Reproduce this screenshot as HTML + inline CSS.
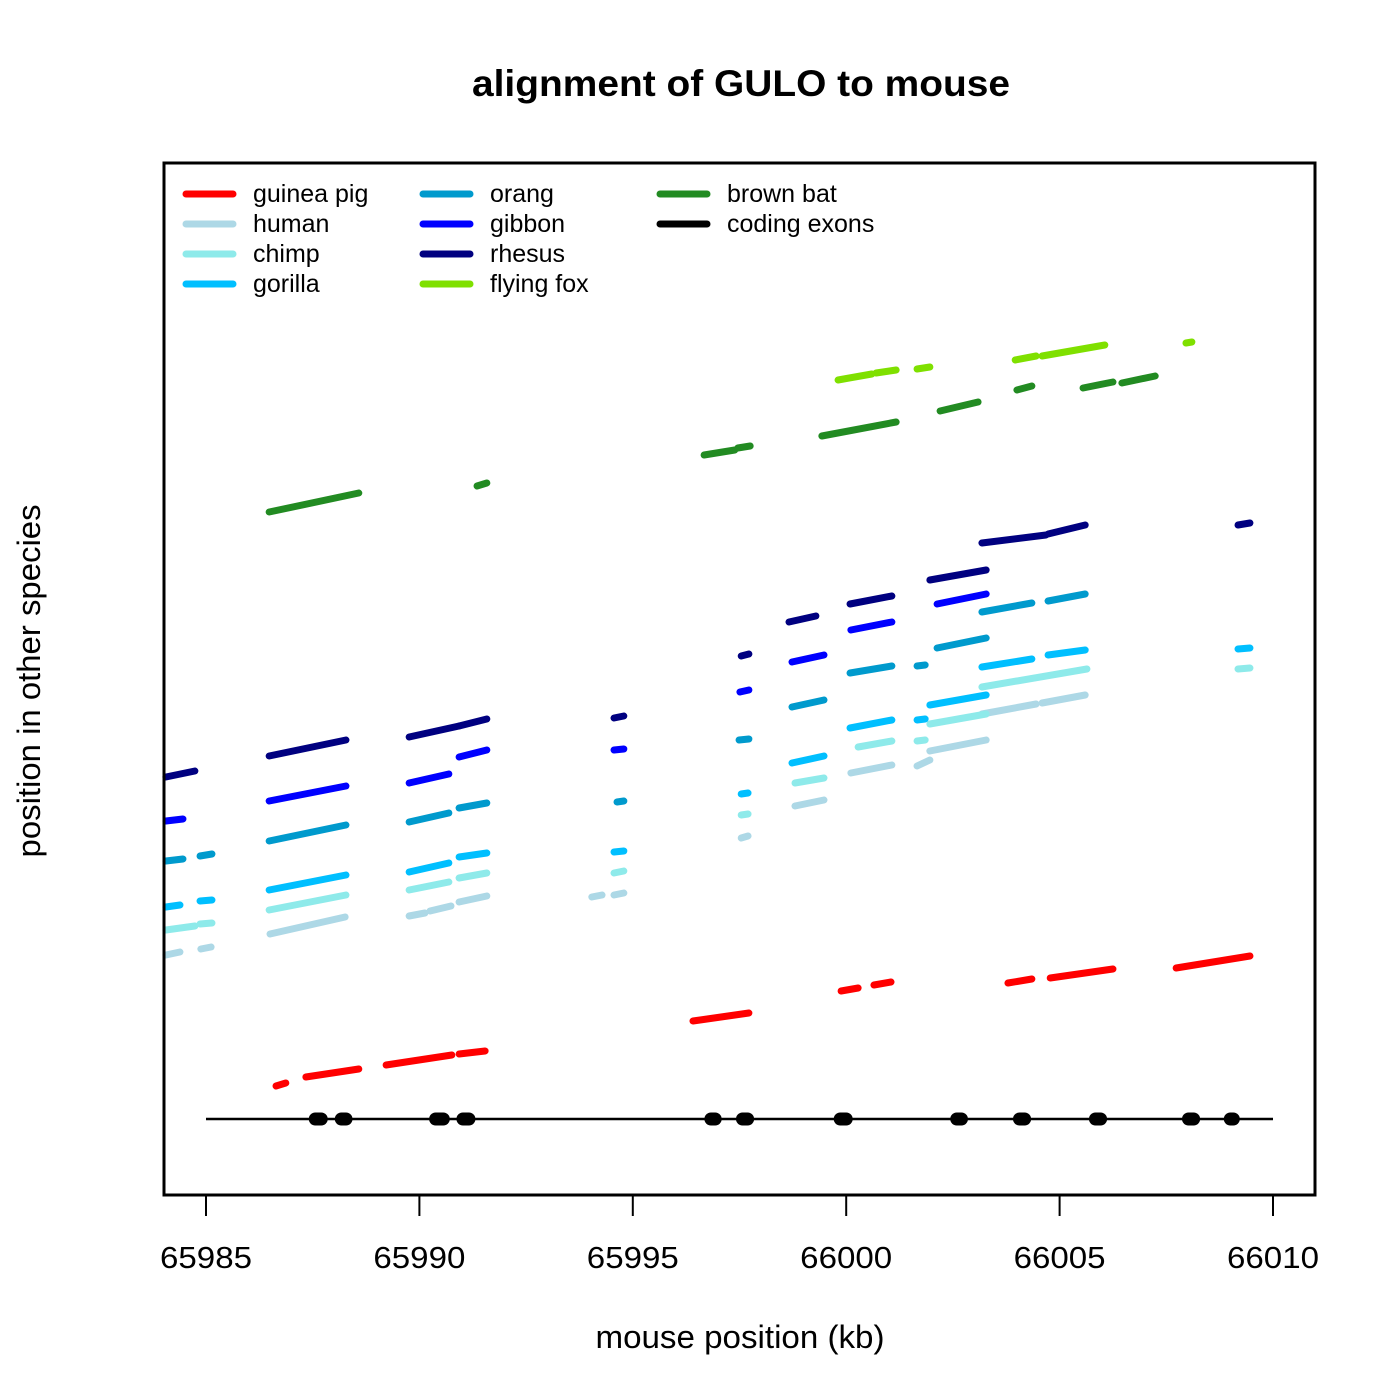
<!DOCTYPE html>
<html><head><meta charset="utf-8"><style>
html,body{margin:0;padding:0;background:#fff;}
svg{display:block;font-family:"Liberation Sans",Arial,sans-serif;}
</style></head><body>
<svg id="chart" width="1400" height="1400" viewBox="0 0 1400 1400">
<rect width="1400" height="1400" fill="#fff"/>
<text x="741" y="96" text-anchor="middle" font-size="37" font-weight="bold" textLength="538" lengthAdjust="spacingAndGlyphs">alignment of GULO to mouse</text>
<text x="740" y="1348" text-anchor="middle" font-size="32" textLength="289" lengthAdjust="spacingAndGlyphs">mouse position (kb)</text>
<text transform="translate(40,681) rotate(-90)" text-anchor="middle" font-size="32" textLength="353" lengthAdjust="spacingAndGlyphs">position in other species</text>
<g id="plot"></g>
<rect x="164" y="163" width="1151" height="1032" fill="none" stroke="#000" stroke-width="3"/>
<g id="axis"></g>
<g id="legend"></g>
</svg>
<script>
const xTicks = [65985, 65990, 65995, 66000, 66005, 66010];
const speciesNames = ["guinea pig","human","chimp","gorilla","orang","gibbon","rhesus","flying fox","brown bat","coding exons"];
const guineaPig = [[65986.64,65986.87,109,112],[65987.34,65988.58,118,126],[65989.22,65990.76,130,140],[65990.93,65991.54,141,144],[65996.41,65997.72,174,182],[65999.88,66000.28,204,207],[66000.65,66001.05,210,213],[66003.79,66004.35,212,216],[66004.78,66006.25,217,226],[66007.73,66009.46,227,239]];
const human = [[65984.06,65984.39,240,243],[65984.88,65985.12,246,248],[65986.50,65988.26,261,278],[65989.76,65990.13,279,282],[65990.25,65990.74,284,289],[65990.93,65991.58,293,299],[65994.04,65994.28,298,300],[65994.56,65994.79,300,302],[65997.54,65997.70,357,359],[65998.80,65999.48,389,395],[66000.11,66001.07,422,430],[66001.66,66001.96,429,435],[66001.96,66003.28,444,455],[66003.18,66004.45,481,491],[66004.59,66005.60,492,500]];
const chimp = [[65984.06,65984.74,265,269],[65984.86,65985.14,271,272],[65986.48,65988.28,285,300],[65989.76,65990.69,305,313],[65990.93,65991.58,317,322],[65994.56,65994.79,322,324],[65997.54,65997.70,380,381],[65998.80,65999.48,412,417],[66000.28,66001.07,448,454],[66001.66,66001.85,454,455],[66001.96,66003.28,471,481],[66003.18,66005.64,508,526],[66009.18,66009.46,526,527]];
const gorilla = [[65984.06,65984.39,288,290],[65984.86,65985.14,294,295],[65986.48,65988.28,305,320],[65989.76,65990.69,323,332],[65990.93,65991.58,338,342],[65994.56,65994.79,343,344],[65997.54,65997.70,401,402],[65998.73,65999.48,432,439],[66000.09,66001.07,467,475],[66001.66,66001.85,475,476],[66001.96,66003.28,490,500],[66003.18,66004.35,528,536],[66004.73,66005.60,540,545],[66009.18,66009.46,546,547]];
const orang = [[65984.06,65984.46,334,336],[65984.86,65985.14,339,341],[65986.48,65988.28,354,370],[65989.76,65990.69,373,382],[65990.93,65991.58,387,392],[65994.63,65994.79,393,394],[65997.49,65997.72,455,456],[65998.73,65999.48,488,495],[66000.09,66001.07,522,529],[66001.66,66001.85,529,530],[66002.13,66003.28,547,557],[66003.18,66004.35,583,592],[66004.73,66005.60,594,601]];
const gibbon = [[65984.06,65984.46,374,376],[65986.48,65988.28,394,409],[65989.76,65990.69,412,421],[65990.93,65991.58,438,445],[65994.56,65994.79,445,446],[65997.51,65997.72,503,505],[65998.73,65999.48,533,540],[66000.11,66001.07,565,573],[66002.13,66003.28,591,601]];
const rhesus = [[65984.06,65984.74,418,424],[65986.48,65988.28,439,455],[65989.76,65990.93,458,469],[65990.93,65991.58,469,476],[65994.56,65994.79,477,479],[65997.54,65997.72,539,541],[65998.66,65999.29,573,579],[66000.09,66001.07,591,599],[66001.96,66003.28,615,625],[66003.18,66004.68,652,660],[66004.73,66005.60,661,670],[66009.18,66009.46,670,672]];
const flyingFox = [[65999.81,66000.60,815,821],[66000.70,66001.17,822,825],[66001.66,66001.96,826,828],[66003.96,66004.45,835,839],[66004.59,66006.06,839,850],[66007.96,66008.10,852,853]];
const brownBat = [[65986.48,65988.58,683,702],[65991.35,65991.58,709,712],[65996.67,65997.39,740,745],[65997.46,65997.75,747,749],[65999.43,66001.17,759,773],[66002.20,66003.09,784,793],[66004.00,66004.35,805,809],[66005.55,66006.25,807,813],[66006.46,66007.24,812,819]];
const exonStarts = [65987.56,65988.17,65990.38,65991.02,65996.83,65997.57,65999.86,66002.59,66004.06,66005.84,66008.02,66009.00];
const exonEnds   = [65987.70,65988.28,65990.56,65991.16,65996.93,65997.69,66000.00,66002.70,66004.18,66005.96,66008.14,66009.07];
const exonLine = [65985, 66010];
const exonLevel = 76;

const X0 = 206, PXPERKB = 42.68;
function xScale(v){ return X0 + (v - 65985) * PXPERKB; }
function yScale(v){ return 1195 - v; }
const NS = "http://www.w3.org/2000/svg";
const plot = document.getElementById('plot');
const axis = document.getElementById('axis');
const legend = document.getElementById('legend');
function mk(tag, attrs, parent){ const e = document.createElementNS(NS, tag); for (const k in attrs) e.setAttribute(k, attrs[k]); parent.appendChild(e); return e; }

const series = [
  {key:'guinea-pig', data:guineaPig, color:'#ff0000'},
  {key:'human', data:human, color:'#add8e6'},
  {key:'chimp', data:chimp, color:'#8eeaea'},
  {key:'gorilla', data:gorilla, color:'#00bfff'},
  {key:'orang', data:orang, color:'#009acd'},
  {key:'gibbon', data:gibbon, color:'#0000ff'},
  {key:'rhesus', data:rhesus, color:'#000080'},
  {key:'flying-fox', data:flyingFox, color:'#7fe000'},
  {key:'brown-bat', data:brownBat, color:'#228b22'}
];
series.forEach(s => {
  const g = mk('g', {}, plot);
  
  
  s.data.forEach(d => {
    const l = mk('line', {x1:xScale(d[0]), x2:xScale(d[1]), y1:yScale(d[2]), y2:yScale(d[3]), stroke:s.color, 'stroke-width':7, 'stroke-linecap':'round'}, g);
    
    
  });
});
const eg = mk('g', {}, plot);


const el0 = mk('line', {x1:xScale(exonLine[0]), x2:xScale(exonLine[1]), y1:yScale(exonLevel), y2:yScale(exonLevel), stroke:'#000', 'stroke-width':2.5}, eg);


exonStarts.forEach((s, i) => {
  const l = mk('line', {x1:xScale(s), x2:xScale(exonEnds[i]), y1:yScale(exonLevel), y2:yScale(exonLevel), stroke:'#000', 'stroke-width':13, 'stroke-linecap':'round'}, eg);
  
  
});

const al = mk('line', {x1:xScale(xTicks[0]), x2:xScale(xTicks[xTicks.length-1]), y1:1195, y2:1195, stroke:'#000', 'stroke-width':2}, axis);


xTicks.forEach(t => {
  const tk = mk('line', {x1:xScale(t), x2:xScale(t), y1:1195, y2:1216, stroke:'#000', 'stroke-width':2}, axis);
  
  
  const tx = mk('text', {x:xScale(t), y:1268, 'text-anchor':'middle', 'font-size':31, textLength:92, lengthAdjust:'spacingAndGlyphs'}, axis);
  tx.textContent = t;
  
  
});

const legendColors = ['#ff0000','#add8e6','#8eeaea','#00bfff','#009acd','#0000ff','#000080','#7fe000','#228b22','#000000'];
speciesNames.forEach((n, i) => {
  const col = Math.floor(i / 4), row = i % 4;
  const lx = 186 + col * 237, ly = 194 + row * 30;
  const g = mk('g', {}, legend);
  
  
  mk('line', {x1:lx, x2:lx+47, y1:ly, y2:ly, stroke:legendColors[i], 'stroke-width':7, 'stroke-linecap':'round'}, g);
  const t = mk('text', {x:lx+67, y:ly+8, 'font-size':25}, g);
  t.textContent = n;
});
</script>
</body></html>
